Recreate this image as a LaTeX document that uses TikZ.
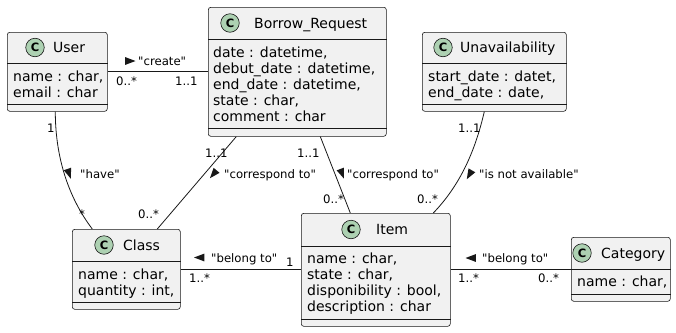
\documentclass[tikz,border=0pt]{standalone}
\usepackage{fontspec}
\setmainfont{DejaVu Sans}[Ligatures=TeXOff]
\usetikzlibrary{calc}
\definecolor{boxfill}{HTML}{F1F1F1}
\definecolor{ink}{HTML}{181818}
\definecolor{spot}{HTML}{ADD1B2}

% small filled direction marker: centre x, centre y, heading (clockwise from east, y grows downwards)
\newcommand\dirtri[3]{\fill[ink] ($(#1,#2)+(#3:5.5)$) -- ($(#1,#2)+(#3+180:4.8)+(#3+90:3.9)$)
  -- ($(#1,#2)+(#3+180:4.8)+(#3-90:3.9)$) -- cycle;}
% class header: name, spot x, spot y, title x, title baseline, title
\newcommand\umlhead[6]{%
  \node[spotc] (#1-spot) at (#2,#3) {C};
  \node[title] (#1-title) at (#4,#5) {#6};}

\begin{document}
\begin{tikzpicture}[x=1pt,y=-1pt,
  classbox/.style={draw=ink, fill=boxfill, line width=0.6pt, rounded corners=2.5pt,
    inner sep=0pt, anchor=north west},
  spotc/.style={circle, draw=ink, fill=spot, line width=0.6pt, minimum size=18.5pt,
    inner sep=0pt, font=\fontsize{11.5}{11.5}\selectfont\bfseries},
  title/.style={anchor=base west, inner sep=0pt, font=\fontsize{14}{14}\selectfont},
  attr/.style={anchor=base west, inner sep=0pt, font=\fontsize{14}{14}\selectfont},
  lbl/.style={anchor=base west, inner sep=0pt, font=\fontsize{11.7}{12}\selectfont},
  sepline/.style={draw=ink, line width=0.6pt},
  link/.style={draw=ink, line width=0.8pt}]
\useasboundingbox (0,0) rectangle (676,332);

% ---------- classes ----------
\node[classbox, minimum width=100pt, minimum height=79pt] (user) at (7,32) {};
\draw[sepline] ($(user.north west)+(0,31)$) -- ($(user.north east)+(0,31)$);
\draw[sepline] ($(user.north west)+(0,72)$) -- ($(user.north east)+(0,72)$);
\umlhead{user}{35}{47.5}{53}{52.5}{User}
\node[attr] (user-a1) at (13,81) {name : char,};
\node[attr] (user-a2) at (13,97) {email : char};

\node[classbox, minimum width=178pt, minimum height=129pt] (borrow) at (208,7) {};
\draw[sepline] ($(borrow.north west)+(0,32)$) -- ($(borrow.north east)+(0,32)$);
\draw[sepline] ($(borrow.north west)+(0,121)$) -- ($(borrow.north east)+(0,121)$);
\umlhead{borrow}{230}{23}{254}{28}{Borrow\_Request}
\node[attr] (borrow-a1) at (213,57) {date : datetime,};
\node[attr] (borrow-a2) at (213,73) {debut\_date : datetime,};
\node[attr] (borrow-a3) at (213,89) {end\_date : datetime,};
\node[attr] (borrow-a4) at (213,105) {state : char,};
\node[attr] (borrow-a5) at (213,121) {comment : char};

\node[classbox, minimum width=144pt, minimum height=79pt] (unavail) at (422,32) {};
\draw[sepline] ($(unavail.north west)+(0,31)$) -- ($(unavail.north east)+(0,31)$);
\draw[sepline] ($(unavail.north west)+(0,72)$) -- ($(unavail.north east)+(0,72)$);
\umlhead{unavail}{443}{47.5}{460}{52.5}{Unavailability}
\node[attr] (unavail-a1) at (428,81) {start\_date : datet,};
\node[attr] (unavail-a2) at (428,97) {end\_date : date,};

\node[classbox, minimum width=108pt, minimum height=80pt] (class) at (72,229) {};
\draw[sepline] ($(class.north west)+(0,32)$) -- ($(class.north east)+(0,32)$);
\draw[sepline] ($(class.north west)+(0,73)$) -- ($(class.north east)+(0,73)$);
\umlhead{class}{104}{245}{123}{250.5}{Class}
\node[attr] (class-a1) at (78,279) {name : char,};
\node[attr] (class-a2) at (78,295) {quantity : int,};

\node[classbox, minimum width=149pt, minimum height=113pt] (item) at (301,213) {};
\draw[sepline] ($(item.north west)+(0,33)$) -- ($(item.north east)+(0,33)$);
\draw[sepline] ($(item.north west)+(0,106)$) -- ($(item.north east)+(0,106)$);
\umlhead{item}{351}{229.5}{376}{234.5}{Item}
\node[attr] (item-a1) at (307,263.5) {name : char,};
\node[attr] (item-a2) at (307,279.5) {state : char,};
\node[attr] (item-a3) at (307,295.5) {disponibility : bool,};
\node[attr] (item-a4) at (307,311.5) {description : char};

\node[classbox, minimum width=99pt, minimum height=64pt] (category) at (571,237) {};
\draw[sepline] ($(category.north west)+(0,32)$) -- ($(category.north east)+(0,32)$);
\draw[sepline] ($(category.north west)+(0,57)$) -- ($(category.north east)+(0,57)$);
\umlhead{category}{582}{253}{601}{258}{Category}
\node[attr] (category-a1) at (577,286.5) {name : char,};

% ---------- associations ----------
\draw[link] (user.east) -- (borrow.west);
\dirtri{130}{61}{0}
\node[lbl] (create) at (138,65) {"create"};
\node[lbl] (m-create-a) at (116,85) {0..*};
\node[lbl] (m-create-b) at (175,85) {1..1};

\draw[link] ([xshift=-2pt]user.south) .. controls +(0,49) and +(-22,-29) .. ([xshift=-34pt]class.north);
\dirtri{69}{173.5}{71}
\node[lbl] (have) at (80,178) {"have"};
\node[lbl] (m-have-a) at (47,132) {1};
\node[lbl] (m-have-b) at (79,218) {*};

\draw[link] ([xshift=-61pt]borrow.south) -- ([xshift=31pt]class.north);
\dirtri{213.5}{174}{130}
\node[lbl] (corr-a) at (224,178) {"correspond to"};
\node[lbl] (m-corr-a1) at (205,157) {1..1};
\node[lbl] (m-corr-a2) at (138,218) {0..*};

\draw[link] ([xshift=23pt]borrow.south) -- ([xshift=-25.5pt]item.north);
\dirtri{342}{173.5}{69}
\node[lbl] (corr-b) at (347,178) {"correspond to"};
\node[lbl] (m-corr-b1) at (297,157) {1..1};
\node[lbl] (m-corr-b2) at (323,203) {0..*};

\draw[link] ([xshift=-10pt]unavail.south) .. controls +(-9,39) and +(27,-28) .. ([xshift=57.5pt]item.north);
\dirtri{469.5}{174.5}{120}
\node[lbl] (notavail) at (479,178) {"is not available"};
\node[lbl] (m-na-a) at (458,132) {1..1};
\node[lbl] (m-na-b) at (417,203) {0..*};

\draw[link] (class.east) -- (class.east -| item.west);
\dirtri{199.5}{257.5}{180}
\node[lbl] (belong-a) at (211,262) {"belong to"};
\node[lbl] (m-bel-a1) at (286,266) {1};
\node[lbl] (m-bel-a2) at (189,282) {1..*};

\draw[link] (item.east) -- (item.east -| category.west);
\dirtri{471}{258}{180}
\node[lbl] (belong-b) at (482,262) {"belong to"};
\node[lbl] (m-bel-b1) at (458,282) {1..*};
\node[lbl] (m-bel-b2) at (538,282) {0..*};
\end{tikzpicture}
\end{document}
